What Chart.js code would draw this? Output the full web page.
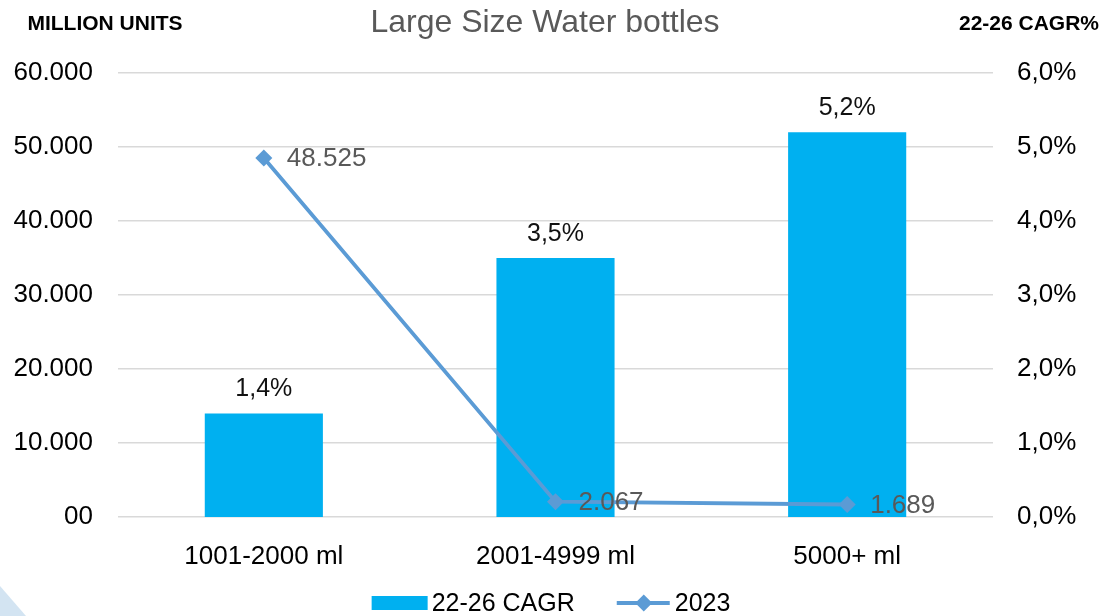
<!DOCTYPE html>
<html>
<head>
<meta charset="utf-8">
<script src="https://cdn.jsdelivr.net/npm/chart.js@4.4.1/dist/chart.umd.min.js"></script>
<style>
  html, body { margin: 0; padding: 0; background: #fff; }
  #wrap { width: 1104px; height: 616px; position: relative; }
</style>
</head>
<body>
<div id="wrap"><canvas id="chart" width="1104" height="616"></canvas></div>
<script>
// data
const categories = ['1001-2000 ml', '2001-4999 ml', '5000+ ml'];
const cagrPct = [1.4, 3.5, 5.2];          // 22-26 CAGR, right axis (%)
const units2023 = [48525, 2067, 1689];    // 2023, left axis (million units)
const leftTicks = [0, 10000, 20000, 30000, 40000, 50000, 60000];
const rightTicks = [0, 1, 2, 3, 4, 5, 6];

const FONT = '"Liberation Sans", Arial, sans-serif';
const BAR_COLOR = '#00B0F0';
const LINE_COLOR = '#5B9BD5';

function fmtUnits(v) {
    if (v === 0) return '00';
    return String(Math.round(v)).replace(/\B(?=(\d{3})+(?!\d))/g, '.');
}
function fmtPct(v) {
    return v.toFixed(1).replace('.', ',') + '%';
}

// titles, data labels, legend
const decorPlugin = {
    id: 'decor',
    afterDatasetsDraw(chart) {
        const ctx = chart.ctx;
        ctx.save();
        // bar labels
        const barMeta = chart.getDatasetMeta(0);
        ctx.font = '25px ' + FONT;
        ctx.fillStyle = '#111';
        ctx.textAlign = 'center';
        ctx.textBaseline = 'alphabetic';
        barMeta.data.forEach((el, i) => {
            ctx.fillText(fmtPct(cagrPct[i]), el.x, el.y - 17);
        });
        // line labels
        const lineMeta = chart.getDatasetMeta(1);
        ctx.font = '26px ' + FONT;
        ctx.fillStyle = '#595959';
        ctx.textAlign = 'left';
        ctx.textBaseline = 'middle';
        lineMeta.data.forEach((el, i) => {
            ctx.fillText(fmtUnits(units2023[i]), el.x + 23, el.y + 1);
        });
        ctx.restore();
    },
    afterDraw(chart) {
        const ctx = chart.ctx;
        ctx.save();
        // chart title
        ctx.font = '32px ' + FONT;
        ctx.fillStyle = '#595959';
        ctx.textAlign = 'center';
        ctx.textBaseline = 'alphabetic';
        ctx.fillText('Large Size Water bottles', 545, 32);
        // axis titles
        ctx.font = 'bold 21px ' + FONT;
        ctx.fillStyle = '#000';
        ctx.fillText('MILLION UNITS', 105, 30);
        ctx.fillText('22-26 CAGR%', 1029, 30);

        // legend
        const ly = 603;
        ctx.font = '25px ' + FONT;
        ctx.textAlign = 'left';
        ctx.textBaseline = 'middle';
        const t1 = '22-26 CAGR', t2 = '2023';
        const w1 = ctx.measureText(t1).width, w2 = ctx.measureText(t2).width;
        const total = 56 + 4 + w1 + 42 + 53 + 5 + w2;
        let x = 551 - total / 2;
        ctx.fillStyle = BAR_COLOR;
        ctx.fillRect(x, ly - 7, 56, 14);
        x += 60;
        ctx.fillStyle = '#000';
        ctx.fillText(t1, x, ly + 1);
        x += w1 + 42;
        ctx.strokeStyle = LINE_COLOR;
        ctx.lineWidth = 3.8;
        ctx.beginPath();
        ctx.moveTo(x, ly);
        ctx.lineTo(x + 53, ly);
        ctx.stroke();
        const cx = x + 27;
        ctx.fillStyle = LINE_COLOR;
        ctx.beginPath();
        ctx.moveTo(cx, ly - 8.5);
        ctx.lineTo(cx + 8.5, ly);
        ctx.lineTo(cx, ly + 8.5);
        ctx.lineTo(cx - 8.5, ly);
        ctx.closePath();
        ctx.fill();
        x += 58;
        ctx.fillStyle = '#000';
        ctx.fillText(t2, x, ly + 1);

        // faint corner shape
        ctx.fillStyle = 'rgba(175, 205, 232, 0.55)';
        ctx.beginPath();
        ctx.moveTo(0, 586);
        ctx.lineTo(26, 616);
        ctx.lineTo(0, 616);
        ctx.closePath();
        ctx.fill();
        ctx.restore();
    }
};

new Chart(document.getElementById('chart'), {
    data: {
        labels: categories,
        datasets: [
            {
                type: 'bar',
                label: '22-26 CAGR',
                data: cagrPct,
                yAxisID: 'yRight',
                backgroundColor: BAR_COLOR,
                borderWidth: 0,
                categoryPercentage: 1.0,
                barPercentage: 0.405,
                order: 2
            },
            {
                type: 'line',
                label: '2023',
                data: units2023,
                yAxisID: 'yLeft',
                borderColor: LINE_COLOR,
                backgroundColor: LINE_COLOR,
                borderWidth: 3.8,
                pointStyle: 'rectRot',
                pointRadius: 8.5,
                pointBorderWidth: 0,
                tension: 0,
                order: 1
            }
        ]
    },
    options: {
        responsive: false,
        animation: false,
        layout: { padding: { top: 73, left: 0, right: 0, bottom: 0 } },
        plugins: {
            legend: { display: false },
            title: { display: false },
            tooltip: { enabled: false }
        },
        scales: {
            x: {
                offset: true,
                grid: { display: false },
                border: { display: false },
                ticks: { color: '#000', font: { size: 26, family: FONT }, padding: 16, maxRotation: 0 },
                afterFit: s => { s.height = 99; }
            },
            yLeft: {
                position: 'left',
                min: 0, max: 60000,
                afterBuildTicks: s => { s.ticks = leftTicks.map(v => ({ value: v })); },
                ticks: { color: '#000', font: { size: 26, family: FONT }, padding: 25, callback: v => fmtUnits(v) },
                grid: { color: '#d9d9d9', lineWidth: 1.5, drawTicks: false },
                border: { display: false },
                afterFit: s => { s.width = 118; }
            },
            yRight: {
                position: 'right',
                min: 0, max: 6,
                afterBuildTicks: s => { s.ticks = rightTicks.map(v => ({ value: v })); },
                ticks: { color: '#000', font: { size: 26, family: FONT }, padding: 24, callback: v => fmtPct(v) },
                grid: { display: false, drawTicks: false },
                border: { display: false },
                afterFit: s => { s.width = 111; }
            }
        }
    },
    plugins: [decorPlugin]
});
</script>
</body>
</html>
